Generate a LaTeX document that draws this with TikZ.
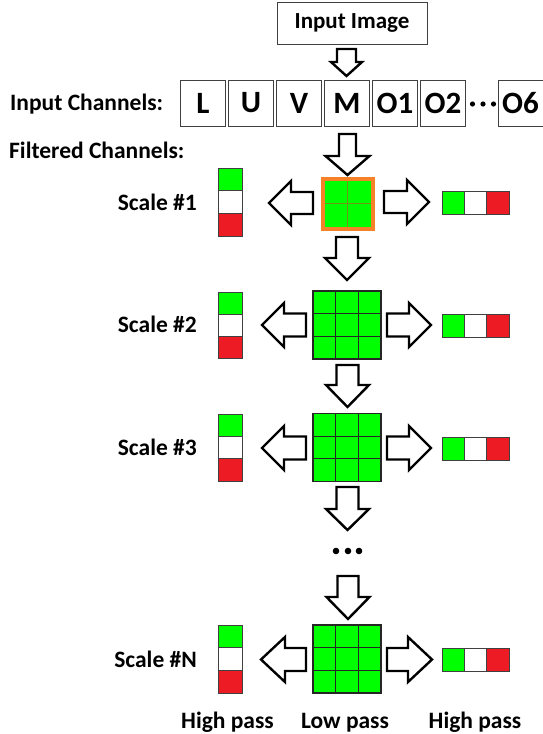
\documentclass[tikz,border=0pt]{standalone}
\usepackage{fontspec}
\setmainfont{Carlito}
\definecolor{limeg}{RGB}{0,255,0}
\definecolor{barred}{RGB}{237,28,36}
\definecolor{frame}{RGB}{64,64,64}
\definecolor{orangeb}{RGB}{245,130,40}
\definecolor{oliveg}{RGB}{115,150,25}
\tikzset{
  blk/.style={draw=black, fill=white, line width=2.4pt, line join=miter},
  lbl/.style={inner sep=0pt, font=\fontsize{23.5}{28}\selectfont\bfseries},
  chan/.style={draw=frame, line width=1pt, minimum width=45pt, minimum height=46pt, inner sep=0pt, font=\fontsize{31}{36}\selectfont\bfseries},
  cell/.style={draw=frame, line width=1pt},
}
% down arrow: cx, top, base, tip, shaft half, head half
\newcommand\dnarrow[6]{\draw[blk] ({#1-#5},#2) -- ({#1+#5},#2) -- ({#1+#5},#3) -- ({#1+#6},#3) -- (#1,#4) -- ({#1-#6},#3) -- ({#1-#5},#3) -- cycle;}
% horizontal arrow: cy, start x, base x, tip x, shaft half, head half
\newcommand\hzarrow[6]{\draw[blk] (#2,{#1-#5}) -- (#3,{#1-#5}) -- (#3,{#1-#6}) -- (#4,#1) -- (#3,{#1+#6}) -- (#3,{#1+#5}) -- (#2,{#1+#5}) -- cycle;}
% left vertical bar (x 218-242) centred at cy, total height h
\newcommand\myleftbar[2]{%
  \fill[limeg] (218,{#1-#2/2}) rectangle (242,{#1-#2/6});
  \fill[white] (218,{#1-#2/6}) rectangle (242,{#1+#2/6});
  \fill[barred] (218,{#1+#2/6}) rectangle (242,{#1+#2/2});
  \draw[cell] (218,{#1-#2/2}) rectangle (242,{#1+#2/2});
  \draw[cell] (218,{#1-#2/6}) -- (242,{#1-#2/6}) (218,{#1+#2/6}) -- (242,{#1+#2/6});}
% right horizontal bar (x 442-509) centred at cy
\newcommand\myrightbar[1]{%
  \fill[limeg] (442,{#1-11.5}) rectangle (464.3,{#1+11.5});
  \fill[white] (464.3,{#1-11.5}) rectangle (486.7,{#1+11.5});
  \fill[barred] (486.7,{#1-11.5}) rectangle (509,{#1+11.5});
  \draw[cell] (442,{#1-11.5}) rectangle (509,{#1+11.5});
  \draw[cell] (464.3,{#1-11.5}) -- (464.3,{#1+11.5}) (486.7,{#1-11.5}) -- (486.7,{#1+11.5});}
% 3x3 grid centred at cy, x 313-381
\newcommand\mygridsq[1]{%
  \fill[limeg] (313,{#1-34}) rectangle (381,{#1+34});
  \draw[black!85, line width=1.1pt] (313,{#1-34}) rectangle (381,{#1+34});
  \draw[black!85, line width=1.1pt] (313,{#1-11.33}) -- (381,{#1-11.33}) (313,{#1+11.33}) -- (381,{#1+11.33})
     (335.67,{#1-34}) -- (335.67,{#1+34}) (358.33,{#1-34}) -- (358.33,{#1+34});}
\begin{document}
\begin{tikzpicture}[x=1pt,y=-1pt]
\useasboundingbox (0,0) rectangle (543,734);
% input image
\node[draw=frame, line width=1pt, minimum width=150pt, minimum height=42pt, inner sep=0pt, font=\fontsize{23}{28}\selectfont\bfseries] (img) at (352,23) {Input Image};
\dnarrow{346.5}{49}{62}{76}{9.5}{15.5}
% labels
\node[lbl, anchor=base west] (inch) at (10,110) {Input Channels:};
\node[lbl, anchor=base west] (fch) at (9,158) {Filtered Channels:};
% channels
\node[chan] (cL) at (203,103) {L};
\node[chan] (cU) at (251,103) {U};
\node[chan] (cV) at (299,103) {V};
\node[chan] (cM) at (347,103) {M};
\node[chan] (cO1) at (395,103) {O1};
\node[chan] (cO2) at (443,103) {O2};
\node[chan] (cO6) at (520.5,103) {O6};
\foreach \x in {472.5,483,493.5} \fill (\x,104) circle (2.6pt);
\dnarrow{347.5}{134}{156}{175}{8.5}{22}
% scale 1
\node[lbl, anchor=base east] (s1) at (197,210.5) {Scale \#1};
\myleftbar{202}{68}
\hzarrow{203}{313}{291}{269}{11}{22}
\fill[orangeb] (320.5,176.5) rectangle (374.5,230.5);
\fill[limeg] (324.5,180.5) rectangle (370.5,226.5);
\fill[oliveg] (346.7,180.5) rectangle (348.3,226.5);
\fill[oliveg] (324.5,202.7) rectangle (370.5,204.3);
\hzarrow{202}{384}{407}{429}{11}{22}
\myrightbar{202.5}
\dnarrow{347}{237}{258}{280}{11}{22}
% scale 2
\node[lbl, anchor=base east] (s2) at (197,332.5) {Scale \#2};
\myleftbar{325}{66}
\hzarrow{325}{306}{284}{262}{11.5}{22}
\mygridsq{325}
\hzarrow{325}{387}{409}{431}{11.5}{22}
\myrightbar{325.5}
\dnarrow{347.5}{365}{385}{407}{11}{21.5}
% scale 3
\node[lbl, anchor=base east] (s3) at (197,455) {Scale \#3};
\myleftbar{447.5}{67}
\hzarrow{448}{306}{284}{262}{11.5}{22}
\mygridsq{447.5}
\hzarrow{448}{387}{409}{431}{11.5}{22}
\myrightbar{448.5}
\dnarrow{347.5}{487}{509}{530}{11}{21.5}
\foreach \x in {336,348,359} \fill (\x,551) circle (3.3pt);
\dnarrow{348}{576}{597}{619}{10.5}{21.5}
% scale N
\node[lbl, anchor=base east] (sN) at (197,667) {Scale \#N};
\myleftbar{659}{68}
\hzarrow{659.5}{306}{285}{261}{11.5}{22.5}
\mygridsq{659}
\hzarrow{659.5}{387}{408}{432}{11.5}{22.5}
\myrightbar{660}
% bottom labels
\node[lbl, anchor=base] (hp1) at (227.5,728) {High pass};
\node[lbl, anchor=base] (lp) at (345,728) {Low pass};
\node[lbl, anchor=base] (hp2) at (475,728) {High pass};
\end{tikzpicture}
\end{document}
